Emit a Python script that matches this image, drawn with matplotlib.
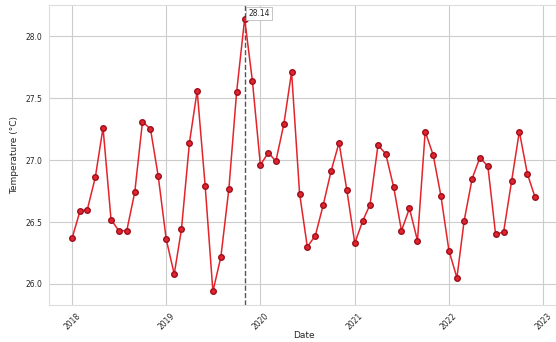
import pandas as pd
import matplotlib
matplotlib.use("Agg")
import matplotlib.pyplot as plt
import seaborn as sns

dates = pd.date_range("2018-01-01", periods=60, freq="MS")
temps = [
    26.37, 26.59, 26.60, 26.86, 27.26, 26.52, 26.43, 26.43, 26.74, 27.31, 27.25, 26.87,
    26.36, 26.08, 26.44, 27.14, 27.56, 26.79, 25.94, 26.22, 26.77, 27.55, 28.14, 27.64,
    26.96, 27.06, 26.99, 27.29, 27.71, 26.73, 26.30, 26.39, 26.64, 26.91, 27.14, 26.76,
    26.33, 26.51, 26.64, 27.12, 27.05, 26.78, 26.43, 26.61, 26.35, 27.23, 27.04, 26.71,
    26.27, 26.05, 26.51, 26.85, 27.02, 26.95, 26.40, 26.42, 26.83, 27.23, 26.89, 26.70,
]

sns.set_style("whitegrid")
fig = plt.figure(figsize=(5.56, 3.42), dpi=100)
# right edge runs past the picture, as in the reference crop
ax = fig.add_axes([0.088, 0.108, 0.916, 0.877])

ax.plot(dates, temps, color="#e3242b", marker="o", markersize=4,
        markeredgecolor="#9a1020", linewidth=1.1, zorder=3)

# peak marker
i_max = temps.index(max(temps))
ax.axvline(dates[i_max], color="#555555", linestyle="--", linewidth=1)
ax.annotate(f"{temps[i_max]:.2f}", xy=(dates[i_max], temps[i_max]),
            xytext=(2.5, 2), textcoords="offset points", fontsize=5.5,
            bbox=dict(boxstyle="square,pad=0.3", fc="white", ec="#bbbbbb", lw=0.6))

ax.set_xlabel("Date", fontsize=6.5, labelpad=0)
ax.set_ylabel("Temperature (°C)", fontsize=6.5, labelpad=5)
ax.tick_params(axis="both", labelsize=5.5, pad=1)
plt.setp(ax.get_xticklabels(), rotation=45)
for s in ax.spines.values():
    s.set_edgecolor("#dddddd")

fig.savefig("out.png", dpi=100)
